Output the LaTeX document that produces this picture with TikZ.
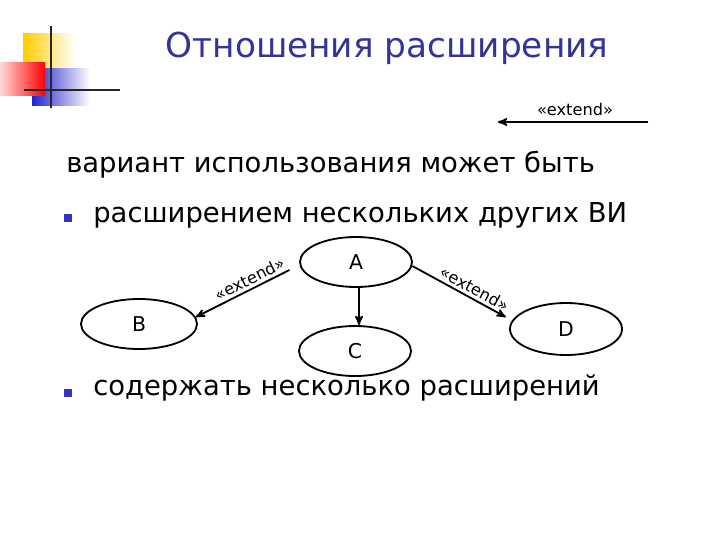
\documentclass[tikz,border=0pt]{standalone}
\usepackage{fontspec}
\setmainfont{DejaVu Sans}
\usepackage{tikz}
\usetikzlibrary{shapes.geometric, arrows, positioning, calc}
\definecolor{titleblue}{RGB}{51, 51, 153}
\definecolor{bulletblue}{RGB}{51, 51, 204}
\definecolor{logoyellow}{RGB}{255, 204, 0}
\definecolor{logored}{RGB}{255, 0, 0}
\definecolor{logoblue}{RGB}{34, 34, 204}

\begin{document}
\begin{tikzpicture}[
    x=0.025cm, y=-0.025cm,
    usecase/.style={ellipse, draw, line width=1.3pt, minimum width=2.8cm, minimum height=1.25cm, font=\fontsize{14.5}{17}\selectfont},
    arrow/.style={->, >=stealth', line width=1.3pt},
    stereo/.style={font=\fontsize{11.5}{13}\selectfont, inner sep=1pt},
    bodytext/.style={anchor=base west, font=\fontsize{19.5}{23}\selectfont, inner sep=0pt},
    bullet/.style={fill=bulletblue, minimum size=0.19cm, inner sep=0pt}
]
\useasboundingbox (0,0) rectangle (720,540);

% Logo
\shade[left color=logoyellow, middle color=logoyellow, right color=white] (23,33) rectangle (75,68);
\shade[left color=logoblue, middle color=logoblue!80, right color=white] (32,68) rectangle (90,105);
\shade[left color=logored!15, right color=logored] (0,62) rectangle (45,95);
\draw[line width=2pt, black!85] (51,26) -- (51,108);
\draw[line width=2pt, black!85] (24,90) -- (120,90);

% Title
\node[anchor=base, inner sep=0pt, text=titleblue, font=\fontsize{24.4}{28}\selectfont] (title) at (387,57) {Отношения расширения};

% Legend
\node[stereo, anchor=base] (legend) at (575,115) {«extend»};
\coordinate (legstart) at (648,122);
\coordinate (legend-end) at (498,122);
\draw[arrow] (legstart) -- (legend-end);

% Text
\node[bodytext] (line1) at (66,172) {вариант использования может быть};
\node[bullet] (b1) at (68,218) {};
\node[bodytext] (line2) at (93,222) {расширением нескольких других ВИ};
\node[bullet] (b2) at (68,393) {};
\node[bodytext] (line3) at (93,395) {содержать несколько расширений};

% Use cases
\node[usecase] (A) at (356,262) {A};
\node[usecase, minimum width=2.9cm] (B) at (139,324) {B};
\node[usecase] (C) at (355,351) {C};
\node[usecase, minimum height=1.3cm] (D) at (566,329) {D};

% Arrows
\draw[arrow, shorten <=8pt] (A.183) -- (B.7) node[stereo, pos=0.44, above, sloped, yshift=1pt] {«extend»};
\draw[arrow] (A.south -| 359,0) -- (C.north -| 359,0);
\draw[arrow, shorten >=5pt] (A.-4) -- (D.171) node[stereo, pos=0.575, above, sloped, yshift=1pt] {«extend»};

\end{tikzpicture}
\end{document}
